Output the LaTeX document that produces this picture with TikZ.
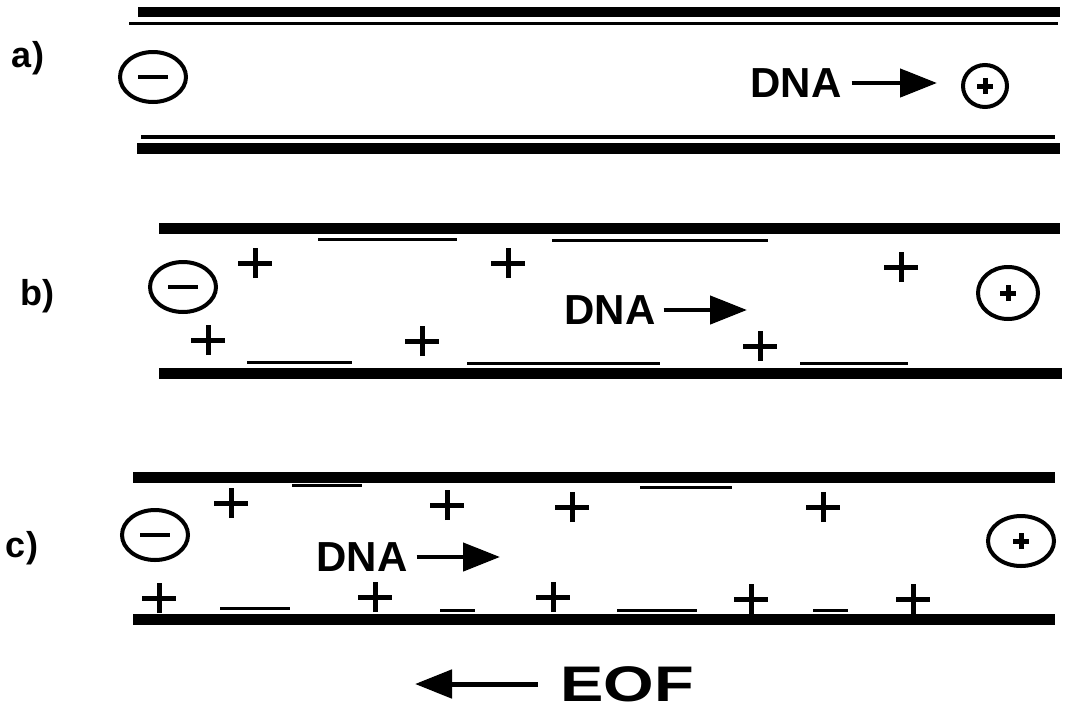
\documentclass[tikz,border=0pt]{standalone}
\usepackage{fontspec}
\setmainfont{Liberation Sans}
\usetikzlibrary{arrows.meta, shapes.geometric}

\begin{document}
\begin{tikzpicture}[x=1pt, y=1pt, line cap=butt,
  wall/.style={line width=11pt},
  film/.style={line width=3.5pt},
  surf/.style={line width=3pt},
  flow/.style={line width=4.5pt, -{Triangle[length=37pt,width=28pt]}},
  panel/.style={font=\bfseries\fontsize{36}{36}\selectfont, inner sep=0pt},
  dna/.style={font=\bfseries\fontsize{42}{42}\selectfont, inner sep=0pt},
  electrode/.style={ellipse, draw, line width=4pt, minimum width=66pt, minimum height=50pt, inner sep=0pt},
  cathode/.style={electrode, path picture={\draw[line width=3.5pt] ([xshift=-15pt]path picture bounding box.center) -- ([xshift=15pt]path picture bounding box.center);}},
  anode/.style={electrode, path picture={\draw[line width=5pt] ([xshift=-8pt]path picture bounding box.center) -- ([xshift=8pt]path picture bounding box.center) ([yshift=-8pt]path picture bounding box.center) -- ([yshift=8pt]path picture bounding box.center);}},
  ion/.pic={\draw[line width=5pt] (-17,0) -- (17,0) (0,-15) -- (0,15);}]
  \useasboundingbox (0,0) rectangle (1070,-715);

  % a)
  \draw[wall, line width=10pt] (138,-12) -- (1060,-12);
  \draw[film] (129,-23.5) -- (1058,-23.5);
  \draw[film] (141,-137) -- (1055,-137);
  \draw[wall] (137,-148) -- (1060,-148);
  \node[panel] (labA) at (28,-58) {a)};
  \node[cathode] (minusA) at (153,-77) {};
  \node[dna] (dnaA) at (796,-83) {DNA};
  \coordinate (tipA) at (937,-83);
  \draw[flow, shorten <=10pt] (dnaA.east) -- (tipA);
  \node[anode, minimum width=44pt, minimum height=42pt] (plusA) at (985,-86) {};

  % b)
  \draw[wall] (159,-228) -- (1060,-228);
  \draw[wall] (159,-373) -- (1062,-373);
  \foreach \a/\b/\y in {318/457/239, 552/768/240, 247/352/362, 467/660/363, 800/908/363}
    \draw[surf] (\a,-\y) -- (\b,-\y);
  \foreach \x/\y in {255/263, 508/263, 901/267, 208/340, 422/341, 760/346}
    \pic at (\x,-\y) {ion};
  \node[panel] (labB) at (37,-296) {b)};
  \node[cathode] (minusB) at (183,-287) {};
  \node[dna] (dnaB) at (610,-310) {DNA};
  \coordinate (tipB) at (747,-310);
  \draw[flow, shorten <=8pt] (dnaB.east) -- (tipB);
  \node[anode, minimum width=60pt, minimum height=52pt] (plusB) at (1008,-293) {};

  % c)
  \draw[wall] (133,-477) -- (1055,-477);
  \draw[wall] (133,-619) -- (1055,-619);
  \foreach \a/\b/\y in {292/362/485, 640/732/487, 220/290/608, 440/475/610, 617/697/610, 813/848/610}
    \draw[surf] (\a,-\y) -- (\b,-\y);
  \foreach \x/\y in {231/503, 447/505, 572/507, 823/507, 159/598, 375/597, 553/597, 751/599, 913/599}
    \pic at (\x,-\y) {ion};
  \node[panel] (labC) at (22,-548) {c)};
  \node[cathode] (minusC) at (155,-535) {};
  \node[dna] (dnaC) at (362,-557) {DNA};
  \coordinate (tipC) at (500,-557);
  \draw[flow, shorten <=9pt] (dnaC.east) -- (tipC);
  \node[anode] (plusC) at (1021,-541) {};

  % EOF
  \node[font=\bfseries\fontsize{50}{50}\selectfont, inner sep=0pt] (eof) at (627,-684) {\scalebox{1.3}[1]{EOF}};
  \coordinate (tipE) at (415,-684);
  \draw[flow, line width=5pt, shorten <=22pt] (eof.west) -- (tipE);
\end{tikzpicture}
\end{document}
